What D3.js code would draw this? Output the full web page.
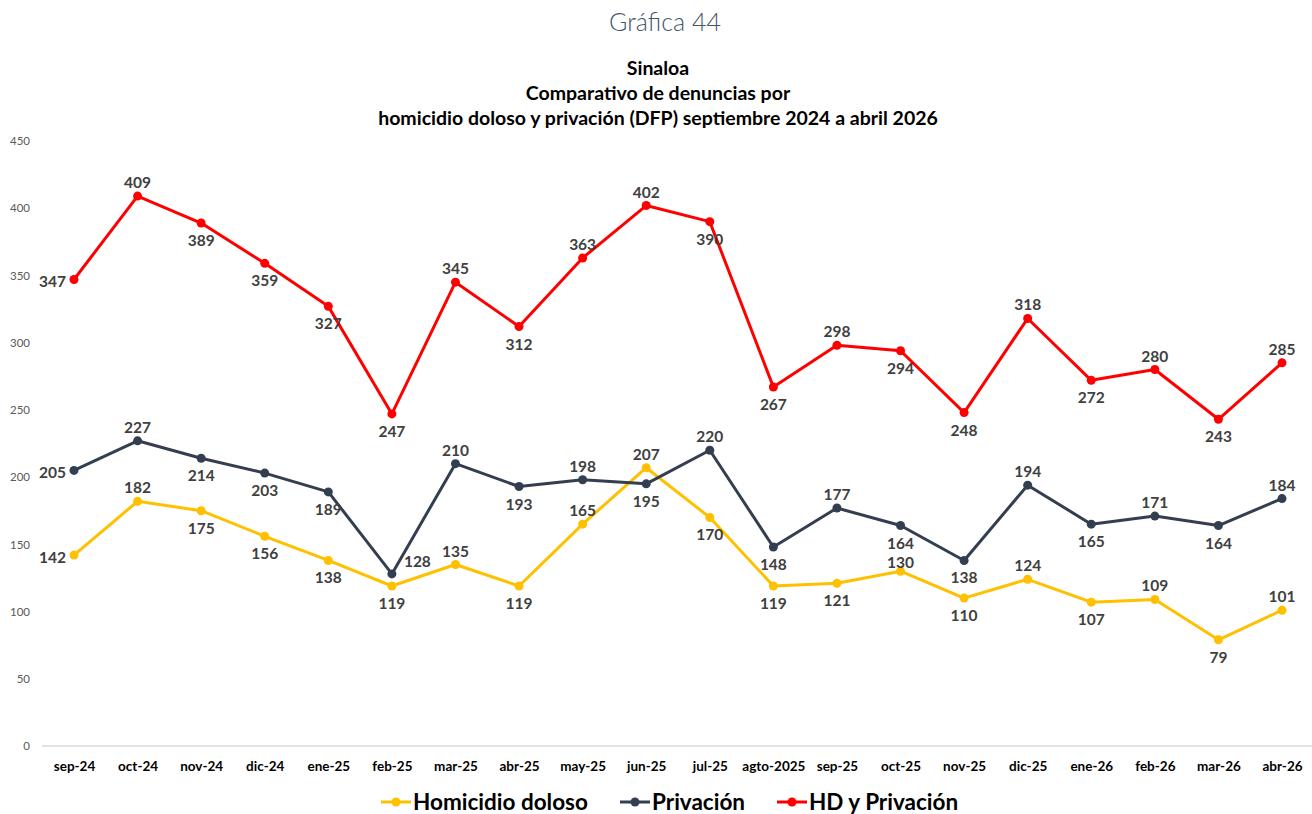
<!DOCTYPE html>
<html><head><meta charset="utf-8">
<script src="https://cdn.jsdelivr.net/npm/d3@7/dist/d3.min.js"></script>
<style>body{margin:0;background:#fff}svg{display:block;font-family:Lato,"Open Sans",sans-serif}</style>
</head><body><svg id="c" width="1312" height="814"></svg>
<script>
const months = ["sep-24","oct-24","nov-24","dic-24","ene-25","feb-25","mar-25","abr-25","may-25","jun-25","jul-25","agto-2025","sep-25","oct-25","nov-25","dic-25","ene-26","feb-26","mar-26","abr-26"];
const homicidio = [142,182,175,156,138,119,135,119,165,207,170,119,121,130,110,124,107,109,79,101];
const privacion = [205,227,214,203,189,128,210,193,198,195,220,148,177,164,138,194,165,171,164,184];
const hdPriv = [347,409,389,359,327,247,345,312,363,402,390,267,298,294,248,318,272,280,243,285];
const yTicks = [0,50,100,150,200,250,300,350,400,450];
const seriesNames = ["Homicidio doloso","Privación","HD y Privación"];

// label placement (layout config): a=above, t=above tight, b=below, l=left, r=right
const placeHom = ["l","a","b","b","b","b","a","b","a","a","b","b","b","t","b","a","b","a","b","a"];
const placePriv = ["l","a","b","b","b","r","a","b","a","b","a","b","a","b","b","a","b","a","b","a"];
const placeHD = ["l","a","b","b","b","b","a","b","a","a","b","b","a","b","b","a","b","a","b","a"];

const colors = ["#FFC000","#333F50","#FF0000"];
const svg = d3.select("#c");
const W = 1312;
const x = d3.scalePoint().domain(months).range([74,1282]);
const y = d3.scaleLinear().domain([0,450]).range([746,141]);

// Titles
svg.append("text").attr("x",W/2+9).attr("y",31).attr("text-anchor","middle")
  .attr("font-size",25).attr("font-weight",300).attr("fill","#44546A").text("Gráfica 44");
const tl = ["Sinaloa","Comparativo de denuncias por","homicidio doloso y privación (DFP) septiembre 2024 a abril 2026"];
tl.forEach((t,i)=>svg.append("text").attr("x",W/2+2).attr("y",75+i*25).attr("text-anchor","middle")
  .attr("font-size",19.5).attr("font-weight",700).attr("fill","#000").text(t));

// Y axis
const ya = svg.append("g").attr("transform","translate(30,0)")
  .call(d3.axisLeft(y).tickValues(yTicks).tickSize(0).tickPadding(0));
ya.select(".domain").remove();
ya.selectAll("text").attr("font-size",11.5).attr("fill","#595959").attr("font-family","Lato,sans-serif");

// baseline
svg.append("line").attr("x1",42).attr("x2",1312).attr("y1",y(0)).attr("y2",y(0))
  .attr("stroke","#D9D9D9").attr("stroke-width",1.5);

// X axis
const xa = svg.append("g").attr("transform",`translate(0,${y(0)})`)
  .call(d3.axisBottom(x).tickSize(0).tickPadding(15));
xa.select(".domain").remove();
xa.selectAll("text").attr("font-size",13.5).attr("font-weight",700).attr("fill","#000").attr("font-family","Lato,sans-serif");

const all = [[homicidio,placeHom],[privacion,placePriv],[hdPriv,placeHD]];
const line = d3.line().x((d,i)=>x(months[i])).y(d=>y(d));
all.forEach(([vals],k)=>{
  svg.append("path").datum(vals).attr("d",line).attr("fill","none")
    .attr("stroke",colors[k]).attr("stroke-width",3).attr("stroke-linejoin","round");
  svg.append("g").selectAll("circle").data(vals).join("circle")
    .attr("cx",(d,i)=>x(months[i])).attr("cy",d=>y(d)).attr("r",4.5).attr("fill",colors[k]);
});
all.forEach(([vals,pl])=>{
  svg.append("g").selectAll("text").data(vals).join("text")
    .attr("x",(d,i)=>{const p=pl[i],cx=x(months[i]);return p==="l"?cx-8:p==="r"?cx+12:cx;})
    .attr("y",(d,i)=>{const p=pl[i],cy=y(d);return p==="a"?cy-8:p==="t"?cy-3:p==="b"?cy+23:p==="r"?cy-7:cy+8;})
    .attr("text-anchor",(d,i)=>pl[i]==="l"?"end":pl[i]==="r"?"start":"middle")
    .attr("font-size",15.5).attr("font-weight",700).attr("fill","#404040").text(d=>d);
});

// Legend
const lg = svg.append("g").attr("transform","translate(0,802)");
const lx = [381,620,777];
seriesNames.forEach((n,k)=>{
  const g = lg.append("g").attr("transform",`translate(${lx[k]},0)`);
  g.append("line").attr("x1",0).attr("x2",30).attr("y1",0).attr("y2",0).attr("stroke",colors[k]).attr("stroke-width",3);
  g.append("circle").attr("cx",15).attr("cy",0).attr("r",4.5).attr("fill",colors[k]);
  g.append("text").attr("x",32).attr("y",8).attr("font-size",22.5).attr("font-weight",700).attr("fill","#000").text(n);
});
</script></body></html>
